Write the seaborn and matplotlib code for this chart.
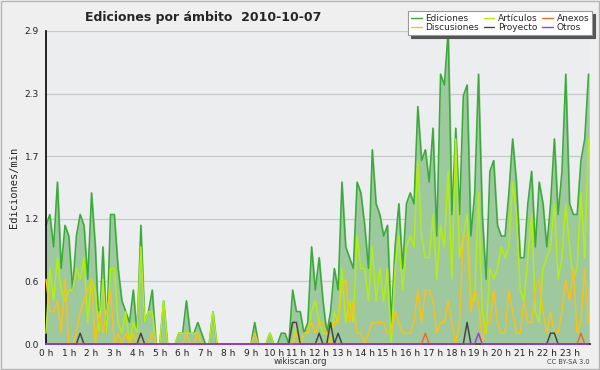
import numpy as np
import pandas as pd
import matplotlib
matplotlib.use("Agg")
import matplotlib.pyplot as plt
import seaborn as sns
from matplotlib.patches import Rectangle

# ediciones por minuto, intervalos de 10 min (144 puntos)
ediciones = [1.1, 1.2, 0.9, 1.5, 0.7, 1.1, 1.0, 0.5, 1.0, 1.2, 1.1, 0.6, 1.4, 0.9, 0.1, 0.9, 0.1, 1.2, 1.2, 0.7,
             0.4, 0.3, 0.2, 0.5, 0.1, 1.1, 0.2, 0.3, 0.5, 0.0, 0.0, 0.4, 0.0, 0.0, 0.0, 0.1, 0.1, 0.4, 0.1, 0.1,
             0.2, 0.1, 0.0, 0.0, 0.3, 0.0, 0.0, 0.0, 0.0, 0.0, 0.0, 0.0, 0.0, 0.0, 0.0, 0.2, 0.0, 0.0, 0.0, 0.1,
             0.0, 0.0, 0.1, 0.1, 0.0, 0.5, 0.3, 0.3, 0.1, 0.2, 0.9, 0.5, 0.8, 0.4, 0.1, 0.3, 0.7, 0.5, 1.5, 0.9,
             0.8, 0.7, 1.5, 1.4, 1.1, 0.7, 1.8, 1.3, 1.2, 1.0, 1.1, 0.2, 0.9, 1.3, 0.7, 1.3, 1.4, 1.3, 2.2, 1.7,
             1.8, 1.5, 2.0, 1.0, 2.5, 2.4, 2.9, 1.2, 2.0, 1.2, 2.3, 2.4, 1.0, 1.4, 2.5, 1.2, 0.6, 1.6, 1.7, 1.1,
             1.0, 1.0, 1.4, 1.9, 1.5, 0.8, 0.8, 1.3, 1.6, 0.9, 1.5, 1.3, 0.9, 1.3, 1.9, 1.2, 1.6, 2.5, 1.3, 1.2,
             1.2, 1.7, 1.9, 2.5]
articulos = [0.1, 0.7, 0.4, 0.8, 0.5, 0.4, 0.5, 0.5, 0.7, 0.6, 0.8, 0.2, 0.6, 0.5, 0.1, 0.6, 0.1, 0.7, 0.7, 0.2,
             0.1, 0.3, 0.0, 0.2, 0.1, 0.9, 0.2, 0.3, 0.3, 0.0, 0.0, 0.4, 0.0, 0.0, 0.0, 0.1, 0.1, 0.1, 0.1, 0.1,
             0.1, 0.0, 0.0, 0.0, 0.3, 0.0, 0.0, 0.0, 0.0, 0.0, 0.0, 0.0, 0.0, 0.0, 0.0, 0.0, 0.0, 0.0, 0.0, 0.1,
             0.0, 0.0, 0.0, 0.0, 0.0, 0.0, 0.2, 0.0, 0.1, 0.1, 0.3, 0.4, 0.2, 0.1, 0.1, 0.0, 0.3, 0.2, 0.7, 0.2,
             0.4, 0.2, 1.0, 0.7, 0.7, 0.4, 0.9, 0.4, 0.7, 0.4, 0.7, 0.0, 0.7, 1.0, 0.5, 0.9, 1.0, 0.9, 1.7, 1.0,
             0.8, 0.8, 1.2, 0.6, 1.1, 0.9, 1.6, 0.6, 1.9, 0.8, 1.0, 1.2, 0.4, 0.4, 1.4, 0.3, 0.1, 0.7, 0.6, 0.7,
             0.9, 0.8, 0.9, 1.5, 1.2, 0.5, 0.4, 0.8, 1.2, 0.3, 0.2, 0.7, 0.8, 0.9, 1.3, 0.6, 0.8, 1.3, 0.9, 0.6,
             0.7, 1.4, 0.8, 1.9]
discusiones = [0.6, 0.3, 0.3, 0.4, 0.1, 0.6, 0.0, 0.0, 0.1, 0.3, 0.4, 0.5, 0.6, 0.0, 0.3, 0.1, 0.3, 0.5, 0.0, 0.1,
               0.0, 0.1, 0.0, 0.1, 0.0, 0.1, 0.0, 0.0, 0.1, 0.0, 0.0, 0.0, 0.0, 0.0, 0.0, 0.0, 0.0, 0.1, 0.0, 0.0,
               0.1, 0.0, 0.0, 0.0, 0.0, 0.0, 0.0, 0.0, 0.0, 0.0, 0.0, 0.0, 0.0, 0.0, 0.0, 0.1, 0.0, 0.0, 0.0, 0.0,
               0.0, 0.0, 0.0, 0.0, 0.0, 0.0, 0.1, 0.0, 0.1, 0.1, 0.2, 0.1, 0.2, 0.2, 0.1, 0.0, 0.2, 0.2, 0.5, 0.6,
               0.2, 0.4, 0.1, 0.1, 0.0, 0.1, 0.2, 0.2, 0.2, 0.2, 0.1, 0.1, 0.3, 0.2, 0.1, 0.1, 0.1, 0.2, 0.5, 0.2,
               0.5, 0.5, 0.4, 0.1, 0.2, 0.2, 0.4, 0.2, 0.0, 0.2, 1.0, 1.0, 0.3, 0.5, 0.4, 0.0, 0.2, 0.2, 0.5, 0.2,
               0.1, 0.1, 0.5, 0.3, 0.1, 0.1, 0.4, 0.2, 0.2, 0.5, 0.6, 0.3, 0.1, 0.3, 0.1, 0.1, 0.3, 0.6, 0.4, 0.7,
               0.1, 0.2, 0.7, 0.2]
# series casi vacias: (indice, valor)
proyecto_picos = {9: 0.1, 25: 0.1, 65: 0.2, 66: 0.2, 72: 0.1, 75: 0.2, 77: 0.1, 111: 0.2, 133: 0.1, 134: 0.1}
anexos_picos = {100: 0.1, 141: 0.1}
otros_picos = {114: 0.1}

horas = [f"{h} h" for h in range(24)]
y_ticks = [0.0, 0.58, 1.16, 1.74, 2.32, 2.9]
y_labels = ["0.0", "0.6", "1.2", "1.7", "2.3", "2.9"]

n = len(ediciones)
proyecto = [proyecto_picos.get(i, 0.0) for i in range(n)]
anexos = [anexos_picos.get(i, 0.0) for i in range(n)]
otros = [otros_picos.get(i, 0.0) for i in range(n)]

colores = {"Ediciones": "#3aaa3a", "Artículos": "#b4ee10", "Anexos": "#f06a2a",
           "Discusiones": "#f5c21a", "Proyecto": "#454545", "Otros": "#9a3de0"}

df = pd.DataFrame({"t": np.arange(n), "Ediciones": ediciones, "Artículos": articulos,
                   "Anexos": anexos, "Discusiones": discusiones, "Proyecto": proyecto, "Otros": otros})
largo = df.melt(id_vars="t", var_name="serie", value_name="v")

sns.set_theme(style="white")
plt.rcParams["font.family"] = ["DejaVu Sans"]

fig = plt.figure(figsize=(6, 3.7), dpi=100, facecolor="#efefef")
ax = fig.add_axes([46 / 600, 26 / 370, 544 / 600, 313 / 370])
ax.set_facecolor("#ecedef")

ax.fill_between(df["t"], df["Ediciones"], color="#9ec99e", zorder=1)
orden = ["Ediciones", "Artículos", "Discusiones", "Anexos", "Proyecto", "Otros"]
for i, s in enumerate(orden):
    sns.lineplot(data=largo[largo["serie"] == s], x="t", y="v", color=colores[s],
                 lw=1.1, ax=ax, zorder=2 + i, legend=False, clip_on=False)

ax.set_xlim(0, n - 0.6)
ax.set_ylim(0, 2.9)
ax.set_yticks(y_ticks)
ax.set_yticklabels(y_labels)
ax.set_yticks(np.arange(0, 2.91, 0.145), minor=True)
ax.set_xticks(np.arange(0, n, 6))
ax.set_xticklabels(horas)
ax.set_xticks(np.arange(0, n), minor=True)
ax.yaxis.grid(True, color="#c9c9c9", lw=0.9)
ax.set_axisbelow(True)
ax.tick_params(axis="both", which="major", direction="out", length=4, width=1, labelsize=6.5,
               pad=1, colors="black", labelcolor="#222222")
ax.tick_params(axis="both", which="minor", direction="out", length=2.5, width=1, colors="black")
ax.tick_params(axis="x", which="major", length=3, pad=0.5)
for side in ["top", "right"]:
    ax.spines[side].set_visible(False)
for side in ["left", "bottom"]:
    ax.spines[side].set_color("black")
    ax.spines[side].set_linewidth(1.2)
ax.set_xlabel("")
ax.set_ylabel("Ediciones/min", family="DejaVu Sans Mono", fontsize=7.5, labelpad=4)

fig.text(85 / 600, 1 - 17 / 370, "Ediciones por ámbito  2010-10-07", fontsize=9,
         fontweight="bold", va="center", ha="left")
fig.text(0.5, 1 - 362 / 370, "wikiscan.org", fontsize=6.2, color="#333333", ha="center", va="center")
fig.text(590 / 600, 1 - 362 / 370, "CC BY-SA 3.0", fontsize=4.8, color="#444444", ha="right", va="center")

nombres = ["Ediciones", "Discusiones", "Artículos", "Proyecto", "Anexos", "Otros"]
handles = [plt.Line2D([], [], color=colores[s], lw=1) for s in nombres]
leg = fig.legend(handles, nombres, ncol=3, loc="upper right", bbox_to_anchor=(592 / 600, 1 - 11 / 370),
                 fontsize=6.5, frameon=True, fancybox=False, shadow={"color": "#555555", "alpha": 1},
                 handlelength=1.2, handletextpad=0.4, columnspacing=0.5, labelspacing=0.05,
                 borderpad=0.3, borderaxespad=0)
leg.get_frame().set_edgecolor("#999999")
leg.get_frame().set_linewidth(0.8)
leg.get_frame().set_facecolor("white")

fig.patches.append(Rectangle((0.002, 0.003), 0.996, 0.994, transform=fig.transFigure,
                             fill=False, edgecolor="#b5b5b5", lw=1))

fig.savefig("out.png", dpi=100, facecolor=fig.get_facecolor())
